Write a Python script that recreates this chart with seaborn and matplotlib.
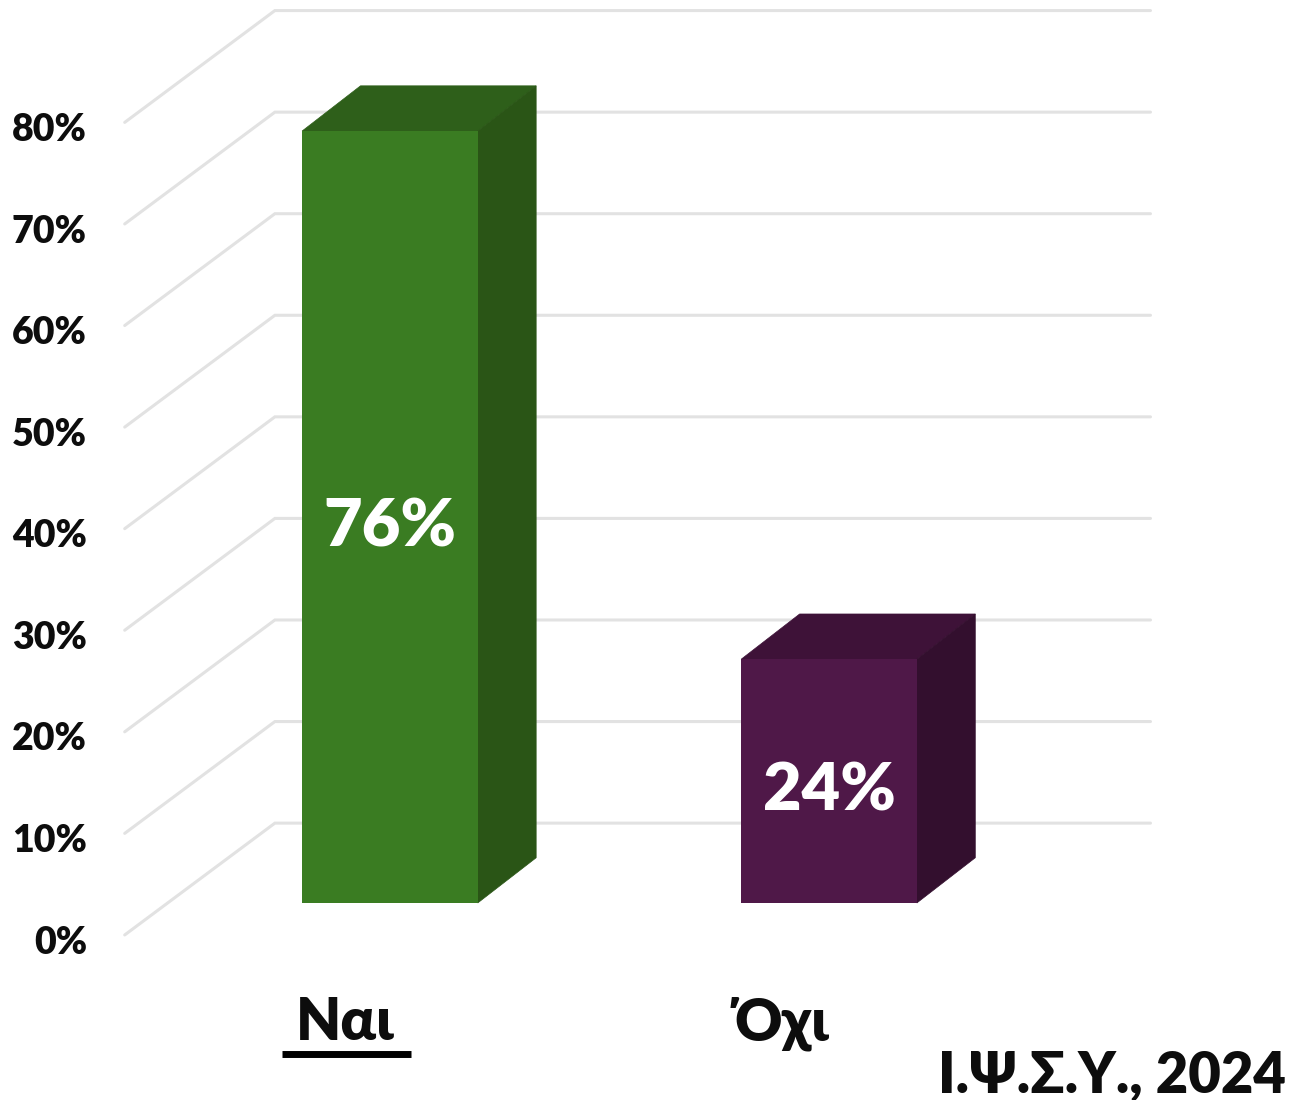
import matplotlib
matplotlib.use("Agg")
import matplotlib.pyplot as plt
from matplotlib.patches import Polygon
import pandas as pd
import seaborn as sns

# Data
categories = ["Ναι", "Όχι"]
values = [76, 24]
value_labels = ["76%", "24%"]
tick_values = [0, 10, 20, 30, 40, 50, 60, 70, 80]
tick_labels = ["0%", "10%", "20%", "30%", "40%", "50%", "60%", "70%", "80%"]
source = "Ι.Ψ.Σ.Υ., 2024"

front_colors = ["#3a7c22", "#4f1848"]
top_colors = ["#2e5f1a", "#3e1238"]
side_colors = ["#2a5516", "#330f2e"]

sns.set_theme(style="white")
plt.rcParams["font.family"] = ["Lato", "Open Sans", "DejaVu Sans"]
plt.rcParams["font.weight"] = "heavy"

df = pd.DataFrame({"answer": categories, "pct": values})

fig = plt.figure(figsize=(12.91, 11), dpi=100)
ax = fig.add_axes([0, 0, 1, 1])

bar_w = 0.4
sns.barplot(data=df, x="answer", y="pct", hue="answer", palette=front_colors,
            width=bar_w, legend=False, saturation=1, linewidth=0, ax=ax, zorder=4)

# axes span the whole figure so 3d-ish offsets can be in data units
ax.set_xlim(-0.888, 2.052)
ax.set_ylim(-19.4, 88.9)
ax.axis("off")

# depth of the fake 3d box
dx, dy = 0.133, 4.45
# back wall and side wall gridlines
wall_x0, wall_x1, wall_x2 = -0.604, -0.262, 1.732
wall_dy0, wall_dy1 = -3.15, 7.86
for t in tick_values:
    ax.plot([wall_x0, wall_x1, wall_x2], [t + wall_dy0, t + wall_dy1, t + wall_dy1],
            color="#e2e2e2", lw=2.2, zorder=1, solid_joinstyle="miter")
    ax.text(-0.69, t + wall_dy0 - 0.75, tick_labels[t // 10], ha="right", va="center",
            fontsize=27, color="#0d0d0d")

for i, v in enumerate(values):
    l, r = i - bar_w / 2, i + bar_w / 2
    ax.add_patch(Polygon([(l, v), (r, v), (r + dx, v + dy), (l + dx, v + dy)],
                         facecolor=top_colors[i], edgecolor=top_colors[i], lw=0.5, zorder=3))
    ax.add_patch(Polygon([(r, 0), (r + dx, dy), (r + dx, v + dy), (r, v)],
                         facecolor=side_colors[i], edgecolor=side_colors[i], lw=0.5, zorder=3))
    ax.text(i, v / 2 - 1.0, value_labels[i], ha="center", va="center",
            fontsize=48, color="white", zorder=5)

ax.text(-0.103, -11.8, categories[0], ha="center", va="center", fontsize=42, color="#0d0d0d")
ax.text(0.892, -11.9, categories[1], ha="center", va="center", fontsize=42, color="#0d0d0d")
ax.plot([-0.245, 0.048], [-14.9, -14.9], color="black", lw=5, solid_capstyle="butt")
ax.text(2.04, -17.0, source, ha="right", va="center", fontsize=40.5, color="#0d0d0d")

fig.savefig("out.png", dpi=100)
